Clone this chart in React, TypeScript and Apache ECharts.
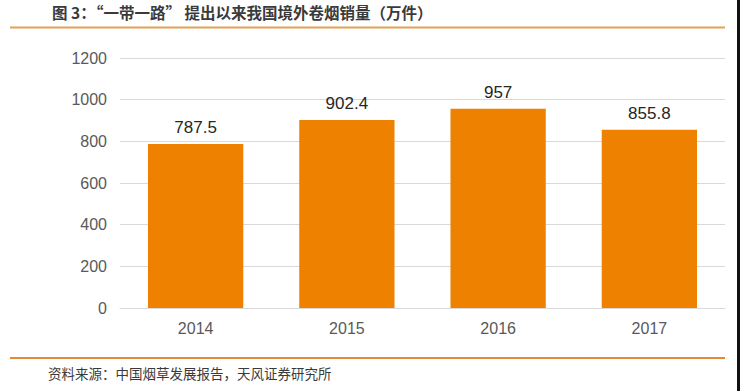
import React, { useEffect, useRef } from "react";
import * as echarts from "echarts";

const categories = ["2014", "2015", "2016", "2017"];
const values = [787.5, 902.4, 957, 855.8];
const yTicks = [0, 200, 400, 600, 800, 1000, 1200];
const titleText = "图 3：“一带一路” 提出以来我国境外卷烟销量（万件）";
const sourceText = "资料来源：中国烟草发展报告，天风证券研究所";

export default function App() {
  const ref = useRef<HTMLDivElement>(null);
  useEffect(() => {
    if (!ref.current) return;
    const chart = echarts.init(ref.current, null, { renderer: "svg" });
    chart.setOption({
      animation: false,
      backgroundColor: "#ffffff",
      grid: { left: 120, right: 15, top: 58, bottom: 83 },
      xAxis: {
        type: "category",
        data: categories,
        axisLine: { show: true, lineStyle: { color: "#d9d9d9", width: 1 } },
        axisTick: { show: false },
        axisLabel: {
          color: "#595959",
          fontSize: 16,
          fontFamily: "Liberation Sans, Arial, sans-serif",
          margin: 12,
        },
      },
      yAxis: {
        type: "value",
        min: yTicks[0],
        max: yTicks[yTicks.length - 1],
        interval: 200,
        axisLine: { show: false },
        axisTick: { show: false },
        splitLine: { lineStyle: { color: "#d9d9d9", width: 1 } },
        axisLabel: {
          color: "#595959",
          fontSize: 16,
          fontFamily: "Liberation Sans, Arial, sans-serif",
          margin: 13,
          formatter: (v: number) => String(v),
        },
      },
      series: [
        {
          type: "bar",
          data: values,
          barWidth: "63%",
          itemStyle: { color: "#EE8100" },
          label: {
            show: true,
            position: "top",
            distance: 8,
            color: "#262626",
            fontSize: 17,
            fontFamily: "Liberation Sans, Arial, sans-serif",
          },
        },
      ],
      graphic: [
        {
          type: "text",
          left: 52,
          top: 4,
          style: {
            text: titleText,
            fill: "#3a3a3a",
            font: "bold 15.5px 'Noto Sans CJK SC', sans-serif",
          },
        },
        {
          type: "rect",
          shape: { x: 10, y: 26.5, width: 715, height: 2 },
          style: { fill: "#E0A255" },
        },
        {
          type: "rect",
          shape: { x: 10, y: 357, width: 715, height: 2 },
          style: { fill: "#E08A3A" },
        },
        {
          type: "text",
          left: 48,
          top: 366,
          style: {
            text: sourceText,
            fill: "#3a3a3a",
            font: "13.5px 'Noto Sans CJK SC', sans-serif",
          },
        },
        {
          type: "rect",
          shape: { x: 737, y: 0, width: 3, height: 391 },
          style: { fill: "#111111" },
        },
      ],
    });
    return () => chart.dispose();
  }, []);
  return (
    <div
      ref={ref}
      style={{ position: "fixed", left: 0, top: 0, width: 740, height: 391 }}
    />
  );
}
